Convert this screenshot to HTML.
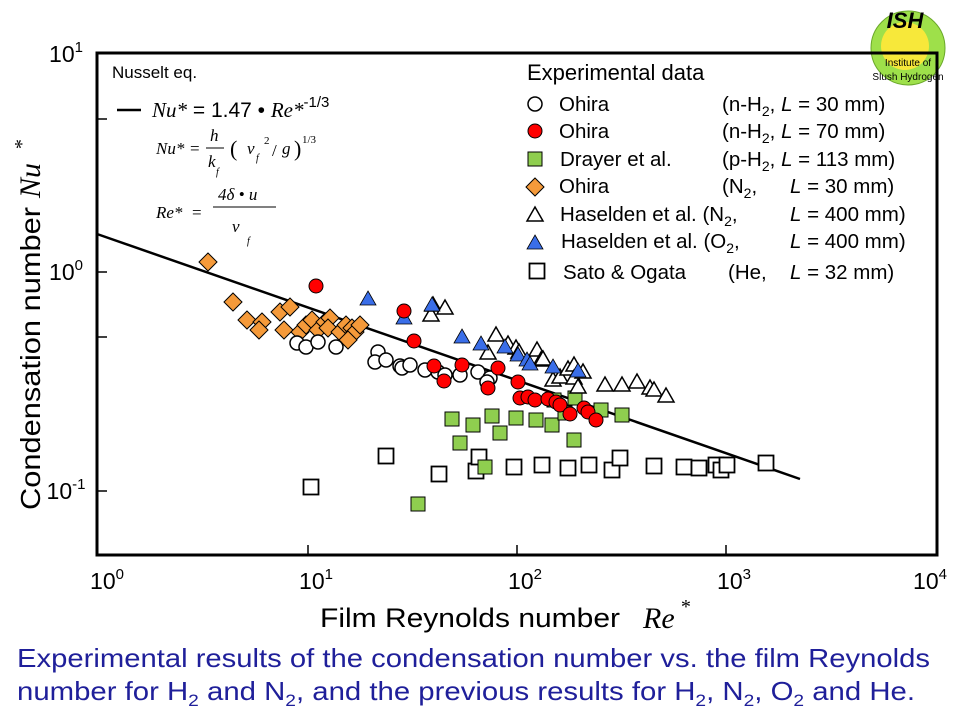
<!DOCTYPE html>
<html><head><meta charset="utf-8"><style>
html,body{margin:0;padding:0;background:#fff;}
svg{display:block;font-family:"Liberation Sans",sans-serif;}
.s{font-family:"Liberation Serif",serif;font-style:italic;}
</style></head><body>
<svg width="960" height="720" viewBox="0 0 960 720" xmlns="http://www.w3.org/2000/svg">
<defs>
<circle id="oc" r="7" fill="#fff" stroke="#000" stroke-width="1.5"/>
<circle id="rc" r="7" fill="#f00" stroke="#000" stroke-width="1"/>
<rect id="gs" x="-7" y="-7" width="14" height="14" fill="#8fce4f" stroke="#000" stroke-width="1"/>
<path id="od" d="M0,-9 L9,0 L0,9 L-9,0Z" fill="#f59a3a" stroke="#000" stroke-width="1"/>
<path id="wt" d="M0,-8 L8,6 L-8,6Z" fill="#fff" stroke="#000" stroke-width="1.5"/>
<path id="bt" d="M0,-8 L8,6 L-8,6Z" fill="#3a6ee8" stroke="#000" stroke-width="0.8"/>
<rect id="ws" x="-7.5" y="-7.5" width="15" height="15" fill="#fff" stroke="#000" stroke-width="1.8"/>
</defs>
<!-- logo -->
<circle cx="908" cy="48" r="37" fill="#9ee04a" stroke="#6aa82a"/>
<circle cx="905" cy="46" r="24" fill="#f7e83a"/>
<text x="905" y="28" font-size="22" font-weight="bold" font-style="italic" text-anchor="middle" fill="#000">ISH</text>
<text x="908" y="66" font-size="10" text-anchor="middle">Institute of</text>
<text x="908" y="80" font-size="10" text-anchor="middle">Slush Hydrogen</text>
<!-- frame -->
<rect x="97" y="53" width="840" height="502" fill="none" stroke="#000" stroke-width="3"/>
<g stroke="#000" stroke-width="1.5">
<line x1="308" y1="555" x2="308" y2="545"/><line x1="517" y1="555" x2="517" y2="545"/><line x1="726" y1="555" x2="726" y2="545"/>
<line x1="97" y1="119" x2="107" y2="119"/><line x1="97" y1="272" x2="107" y2="272"/><line x1="97" y1="337" x2="107" y2="337"/><line x1="97" y1="491" x2="107" y2="491"/>
</g>
<!-- tick labels -->
<g font-size="23">
<text x="66" y="62" text-anchor="middle">10<tspan font-size="15" dy="-10">1</tspan></text>
<text x="66" y="280" text-anchor="middle">10<tspan font-size="15" dy="-10">0</tspan></text>
<text x="66" y="499" text-anchor="middle">10<tspan font-size="15" dy="-10">-1</tspan></text>
<text x="107" y="589" text-anchor="middle">10<tspan font-size="15" dy="-10">0</tspan></text>
<text x="316" y="589" text-anchor="middle">10<tspan font-size="15" dy="-10">1</tspan></text>
<text x="525" y="589" text-anchor="middle">10<tspan font-size="15" dy="-10">2</tspan></text>
<text x="734" y="589" text-anchor="middle">10<tspan font-size="15" dy="-10">3</tspan></text>
<text x="930" y="589" text-anchor="middle">10<tspan font-size="15" dy="-10">4</tspan></text>
</g>
<text x="320" y="627" font-size="27" textLength="300" lengthAdjust="spacingAndGlyphs">Film Reynolds  number</text>
<text x="643" y="628" class="s" font-size="30">Re</text><text x="680" y="613" class="s" font-size="20">*</text>
<text transform="translate(40,510) rotate(-90)" font-size="28" textLength="303" lengthAdjust="spacingAndGlyphs">Condensation  number</text>
<text transform="translate(40,198) rotate(-90)" class="s" font-size="30">Nu</text>
<text transform="translate(28,150) rotate(-90)" class="s" font-size="20">*</text>
<!-- Nusselt -->
<text x="112" y="78" font-size="17">Nusselt eq.</text>
<line x1="117" y1="110" x2="141" y2="110" stroke="#000" stroke-width="2.5"/>
<text x="152" y="117" font-size="21"><tspan class="s">Nu*</tspan> = 1.47 • <tspan class="s">Re*</tspan><tspan font-size="15" dy="-10">-1/3</tspan></text>
<g class="s" font-size="17">
<text x="156" y="154">Nu*</text><text x="190" y="154" font-style="normal">=</text>
<text x="210" y="141">h</text><line x1="206" y1="148" x2="224" y2="148" stroke="#000"/><text x="208" y="167">k</text><text x="216" y="175" font-size="10">f</text>
<text x="230" y="156" font-style="normal" font-size="22">(</text><text x="247" y="154">ν</text><text x="256" y="161" font-size="10">f</text><text x="264" y="144" font-size="11" font-style="normal">2</text><text x="272" y="156" font-style="normal">/</text><text x="282" y="154">g</text><text x="294" y="156" font-style="normal" font-size="22">)</text><text x="302" y="143" font-size="11" font-style="normal">1/3</text>
<text x="156" y="218">Re*</text><text x="192" y="218" font-style="normal">=</text>
<text x="218" y="200">4δ • u</text><line x1="213" y1="207" x2="276" y2="207" stroke="#000"/><text x="232" y="232">ν</text><text x="247" y="244" font-size="10">f</text>
</g>
<!-- fit line -->
<line x1="97" y1="234" x2="800" y2="479" stroke="#000" stroke-width="2.5"/>
<g>
<use href="#ws" x="311" y="487"/><use href="#ws" x="386" y="456"/><use href="#ws" x="439" y="474"/><use href="#ws" x="476" y="471"/><use href="#ws" x="479" y="457"/><use href="#ws" x="514" y="467"/><use href="#ws" x="542" y="465"/><use href="#ws" x="568" y="468"/><use href="#ws" x="589" y="465"/><use href="#ws" x="612" y="470"/><use href="#ws" x="620" y="458"/><use href="#ws" x="654" y="466"/><use href="#ws" x="684" y="467"/><use href="#ws" x="699" y="468"/><use href="#ws" x="716" y="465"/><use href="#ws" x="721" y="470"/><use href="#ws" x="727" y="465"/><use href="#ws" x="766" y="463"/>
</g>
<g>
<use href="#gs" x="418" y="504"/><use href="#gs" x="485" y="467"/><use href="#gs" x="452" y="419"/><use href="#gs" x="460" y="443"/><use href="#gs" x="473" y="425"/><use href="#gs" x="492" y="416"/><use href="#gs" x="500" y="433"/><use href="#gs" x="516" y="418"/><use href="#gs" x="536" y="420"/><use href="#gs" x="552" y="425"/><use href="#gs" x="554" y="400"/><use href="#gs" x="565" y="413"/><use href="#gs" x="574" y="440"/><use href="#gs" x="575" y="398"/><use href="#gs" x="601" y="410"/><use href="#gs" x="622" y="415"/>
</g>
<g>
<use href="#wt" x="431" y="315"/><use href="#wt" x="433" y="305"/><use href="#wt" x="445" y="308"/><use href="#wt" x="496" y="335"/><use href="#wt" x="488" y="353"/><use href="#wt" x="508" y="344"/><use href="#wt" x="516" y="348"/><use href="#wt" x="519" y="352"/><use href="#wt" x="537" y="350"/><use href="#wt" x="541" y="360"/><use href="#wt" x="543" y="359"/><use href="#wt" x="553" y="380"/><use href="#wt" x="560" y="377"/><use href="#wt" x="568" y="369"/><use href="#wt" x="574" y="365"/><use href="#wt" x="574" y="378"/><use href="#wt" x="578" y="387"/><use href="#wt" x="583" y="372"/><use href="#wt" x="605" y="385"/><use href="#wt" x="622" y="385"/><use href="#wt" x="637" y="382"/><use href="#wt" x="650" y="388"/><use href="#wt" x="654" y="390"/><use href="#wt" x="666" y="396"/>
</g>
<g>
<use href="#bt" x="368" y="299"/><use href="#bt" x="404" y="318"/><use href="#bt" x="432" y="305"/><use href="#bt" x="462" y="337"/><use href="#bt" x="481" y="344"/><use href="#bt" x="505" y="347"/><use href="#bt" x="518" y="355"/><use href="#bt" x="527" y="360"/><use href="#bt" x="530" y="364"/><use href="#bt" x="553" y="367"/><use href="#bt" x="578" y="371"/>
</g>
<g>
<use href="#od" x="208" y="262"/><use href="#od" x="233" y="302"/><use href="#od" x="247" y="320"/><use href="#od" x="262" y="322"/><use href="#od" x="259" y="330"/><use href="#od" x="280" y="312"/><use href="#od" x="290" y="307"/><use href="#od" x="284" y="330"/><use href="#od" x="300" y="332"/><use href="#od" x="306" y="325"/><use href="#od" x="312" y="320"/><use href="#od" x="318" y="330"/><use href="#od" x="325" y="322"/><use href="#od" x="330" y="318"/><use href="#od" x="328" y="328"/><use href="#od" x="340" y="332"/><use href="#od" x="346" y="325"/><use href="#od" x="352" y="328"/><use href="#od" x="355" y="332"/><use href="#od" x="360" y="325"/><use href="#od" x="348" y="340"/>
</g>
<g>
<use href="#oc" x="297" y="343"/><use href="#oc" x="306" y="347"/><use href="#oc" x="318" y="342"/><use href="#oc" x="336" y="347"/><use href="#oc" x="378" y="352"/><use href="#oc" x="375" y="362"/><use href="#oc" x="386" y="360"/><use href="#oc" x="400" y="366"/><use href="#oc" x="402" y="368"/><use href="#oc" x="410" y="365"/><use href="#oc" x="425" y="370"/><use href="#oc" x="438" y="372"/><use href="#oc" x="445" y="375"/><use href="#oc" x="460" y="375"/><use href="#oc" x="478" y="372"/><use href="#oc" x="490" y="378"/><use href="#oc" x="487" y="382"/>
</g>
<g>
<use href="#rc" x="316" y="286"/><use href="#rc" x="404" y="311"/><use href="#rc" x="414" y="341"/><use href="#rc" x="434" y="366"/><use href="#rc" x="444" y="381"/><use href="#rc" x="462" y="365"/><use href="#rc" x="488" y="388"/><use href="#rc" x="498" y="368"/><use href="#rc" x="518" y="382"/><use href="#rc" x="520" y="398"/><use href="#rc" x="528" y="397"/><use href="#rc" x="535" y="400"/><use href="#rc" x="548" y="399"/><use href="#rc" x="556" y="402"/><use href="#rc" x="560" y="405"/><use href="#rc" x="570" y="414"/><use href="#rc" x="584" y="408"/><use href="#rc" x="588" y="412"/><use href="#rc" x="596" y="420"/>
</g>
<!-- legend -->
<text x="527" y="80" font-size="22">Experimental data</text>
<g font-size="20.5">
<use href="#oc" x="535" y="104"/><text x="559" y="111">Ohira</text><text x="722" y="111">(n-H<tspan font-size="14" dy="5">2</tspan><tspan dy="-5">, </tspan><tspan font-style="italic">L</tspan> = 30 mm)</text>
<use href="#rc" x="535" y="131"/><text x="559" y="138">Ohira</text><text x="722" y="138">(n-H<tspan font-size="14" dy="5">2</tspan><tspan dy="-5">, </tspan><tspan font-style="italic">L</tspan> = 70 mm)</text>
<use href="#gs" x="535" y="159"/><text x="560" y="166">Drayer et al.</text><text x="722" y="166">(p-H<tspan font-size="14" dy="5">2</tspan><tspan dy="-5">, </tspan><tspan font-style="italic">L</tspan> = 113 mm)</text>
<use href="#od" x="535" y="187"/><text x="559" y="193">Ohira</text><text x="722" y="193">(N<tspan font-size="14" dy="5">2</tspan><tspan dy="-5">,</tspan></text><text x="790" y="193"><tspan font-style="italic">L</tspan> = 30 mm)</text>
<use href="#wt" x="535" y="215"/><text x="560" y="221">Haselden et al. (N<tspan font-size="14" dy="5">2</tspan><tspan dy="-5">,</tspan></text><text x="790" y="221"><tspan font-style="italic">L</tspan> = 400 mm)</text>
<use href="#bt" x="535" y="243"/><text x="561" y="248">Haselden et al. (O<tspan font-size="14" dy="5">2</tspan><tspan dy="-5">,</tspan></text><text x="790" y="248"><tspan font-style="italic">L</tspan> = 400 mm)</text>
<use href="#ws" x="537" y="271"/><text x="563" y="279">Sato &amp; Ogata</text><text x="728" y="279">(He,</text><text x="790" y="279"><tspan font-style="italic">L</tspan> = 32 mm)</text>
</g>
<!-- caption -->
<g font-size="26" fill="#1f1f9a">
<text x="17" y="667" textLength="913" lengthAdjust="spacingAndGlyphs">Experimental results of the condensation number vs. the film Reynolds</text>
<text x="17" y="700" textLength="898" lengthAdjust="spacingAndGlyphs">number for H<tspan font-size="17" dy="6">2</tspan><tspan dy="-6"> and N</tspan><tspan font-size="17" dy="6">2</tspan><tspan dy="-6">, and the previous results for H</tspan><tspan font-size="17" dy="6">2</tspan><tspan dy="-6">, N</tspan><tspan font-size="17" dy="6">2</tspan><tspan dy="-6">, O</tspan><tspan font-size="17" dy="6">2</tspan><tspan dy="-6"> and He.</tspan></text>
</g>
</svg>
</body></html>
